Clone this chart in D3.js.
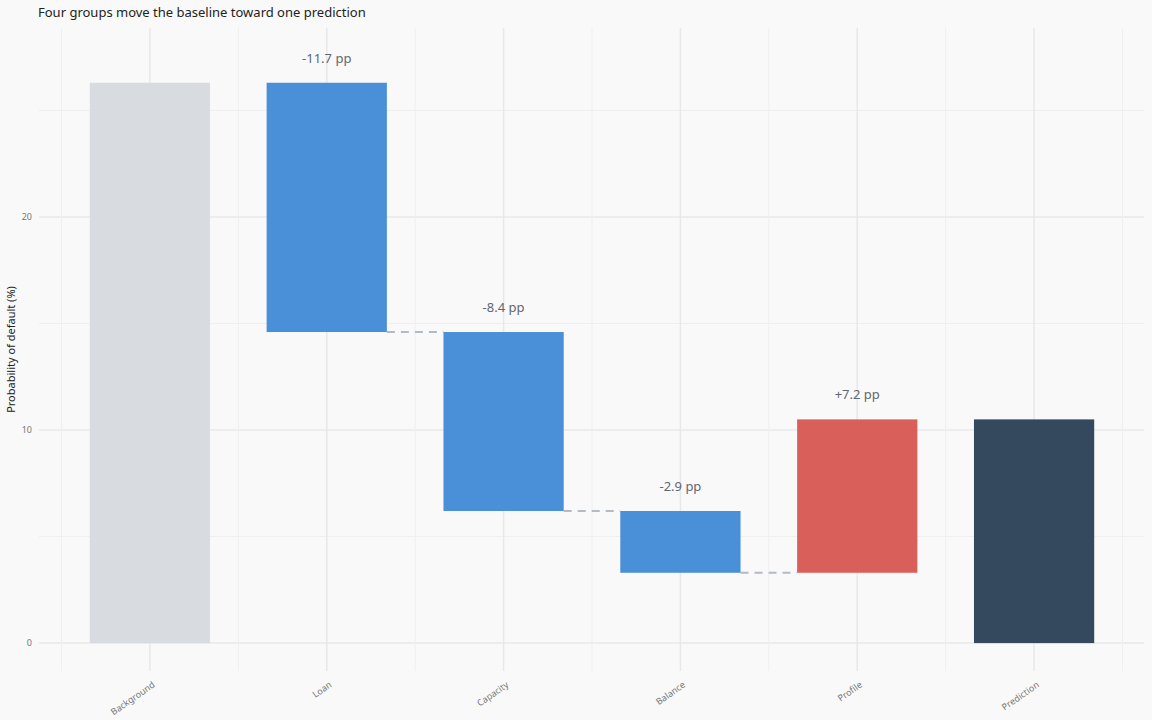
<!DOCTYPE html>
<html>
<head>
<meta charset="utf-8">
<script src="https://cdn.jsdelivr.net/npm/d3@7"></script>
<style>
  body { margin: 0; background: #f9f9f9; }
  text { font-family: "Noto Sans", "DejaVu Sans", sans-serif; }
</style>
</head>
<body>
<script>
// data
const categories = ["Background", "Loan", "Capacity", "Balance", "Profile", "Prediction"];
const baseline = 26.3;
const deltas = [-11.7, -8.4, -2.9, 7.2];
const yTicks = [0, 10, 20];
const yMinor = [5, 15, 25];

const w = 1152;
const h = 720;

// build the waterfall rows
const rows = [];
let run = baseline;
rows.push({ name: categories[0], y0: 0, y1: baseline, kind: "base" });
deltas.forEach((d, i) => {
  rows.push({ name: categories[i + 1], y0: run, y1: run + d, kind: d < 0 ? "neg" : "pos", delta: d });
  run = run + d;
});
rows.push({ name: categories[5], y0: 0, y1: run, kind: "pred" });

const colors = { base: "#d8dce1", neg: "#4a90d9", pos: "#d9605a", pred: "#34495e" };

const pLeft = 39, pRight = 1144, pTop = 28, pBottom = 671;

var svg = d3.select("body").append("svg").attr("width", w).attr("height", h);

const x = d3.scaleBand()
  .domain(categories)
  .range([61.5, 1122.5])
  .paddingInner(0.32)
  .paddingOuter(0.16);

const y = d3.scaleLinear().domain([-1.31, 28.87]).range([pBottom, pTop]);

// grid
const grid = svg.append("g");
grid.selectAll(".ymin").data(yMinor).enter().append("line")
  .attr("x1", pLeft).attr("x2", pRight)
  .attr("y1", (d) => y(d)).attr("y2", (d) => y(d))
  .attr("stroke", "#efefef").attr("stroke-width", 1);
grid.selectAll(".ymaj").data(yTicks).enter().append("line")
  .attr("x1", pLeft).attr("x2", pRight)
  .attr("y1", (d) => y(d)).attr("y2", (d) => y(d))
  .attr("stroke", "#e8e8e8").attr("stroke-width", 1.5);
// vertical minor lines between categories
const xMinor = d3.range(categories.length + 1).map((i) => 61.5 + i * (1061 / categories.length));
grid.selectAll(".xmin").data(xMinor).enter().append("line")
  .attr("x1", (d) => d).attr("x2", (d) => d)
  .attr("y1", pTop).attr("y2", pBottom)
  .attr("stroke", "#efefef").attr("stroke-width", 1);
grid.selectAll(".xmaj").data(categories).enter().append("line")
  .attr("x1", (d) => x(d) + x.bandwidth() / 2).attr("x2", (d) => x(d) + x.bandwidth() / 2)
  .attr("y1", pTop).attr("y2", pBottom)
  .attr("stroke", "#e8e8e8").attr("stroke-width", 1.5);

// connectors between delta bars
const links = [];
for (let i = 1; i < rows.length - 2; i++) {
  links.push({ from: rows[i].name, to: rows[i + 1].name, v: rows[i].y1 });
}
svg.selectAll(".link").data(links).enter().append("line")
  .attr("x1", (d) => x(d.from) + x.bandwidth())
  .attr("x2", (d) => x(d.to))
  .attr("y1", (d) => y(d.v)).attr("y2", (d) => y(d.v))
  .attr("stroke", "#b4bac2").attr("stroke-width", 2)
  .attr("stroke-dasharray", "8,6");

// bars
svg.selectAll(".bar").data(rows).enter().append("rect")
  .attr("x", (d) => x(d.name))
  .attr("width", x.bandwidth())
  .attr("y", (d) => y(Math.max(d.y0, d.y1)))
  .attr("height", (d) => Math.abs(y(d.y0) - y(d.y1)))
  .attr("fill", (d) => colors[d.kind]);

// delta labels
svg.selectAll(".lab").data(rows.filter((d) => d.delta !== undefined)).enter().append("text")
  .attr("x", (d) => x(d.name) + x.bandwidth() / 2)
  .attr("y", (d) => y(Math.max(d.y0, d.y1)) - 20)
  .attr("text-anchor", "middle")
  .attr("font-size", "13px")
  .attr("fill", "#5f6773")
  .text((d) => (d.delta > 0 ? "+" : "") + d.delta.toFixed(1) + " pp");

// y axis ticks
svg.selectAll(".yt").data(yTicks).enter().append("text")
  .attr("x", 32).attr("y", (d) => y(d))
  .attr("dy", "0.35em")
  .attr("text-anchor", "end")
  .attr("font-size", "9px")
  .attr("fill", "#777")
  .text((d) => d);

svg.append("text")
  .attr("transform", "translate(15," + (pTop + pBottom) / 2 + ") rotate(-90)")
  .attr("text-anchor", "middle")
  .attr("font-size", "11px")
  .attr("fill", "#222")
  .text("Probability of default (%)");

// x tick labels
svg.selectAll(".xt").data(categories).enter().append("text")
  .attr("transform", (d) => "translate(" + (x(d) + x.bandwidth() / 2 + 2) + "," + 681 + ") rotate(-35)")
  .attr("text-anchor", "end")
  .attr("dy", "0.7em")
  .attr("font-size", "9px")
  .attr("fill", "#777")
  .text((d) => d);

// title
svg.append("text")
  .attr("x", 38).attr("y", 17)
  .attr("font-size", "13px")
  .attr("fill", "#222")
  .text("Four groups move the baseline toward one prediction");
</script>
</body>
</html>
